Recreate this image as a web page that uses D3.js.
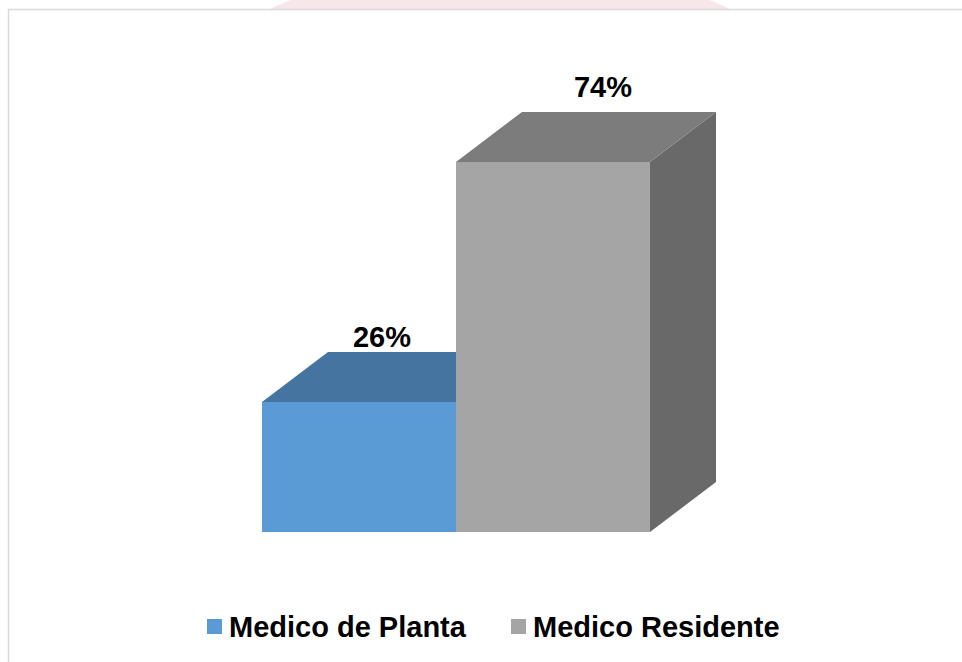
<!DOCTYPE html>
<html>
<head>
	<meta charset="utf-8">
	<title></title>
	<style type="text/css">
body {
  margin: 0;
  background: #fff;
}

text {
  font-family: "Liberation Sans", Arial, sans-serif;
  font-weight: bold;
}
	</style>
</head>
<body>
	<svg width="962" height="662"></svg>

	<script src="https://d3js.org/d3.v7.min.js"></script>
	<script type="text/javascript">
		// data
		var categories = ["Medico de Planta", "Medico Residente"]
		var values = [26, 74]
		var labels = ["26%", "74%"]

		var frontColors = ["#5b9bd5", "#a5a5a5"]
		var topColors = ["#4674a0", "#7c7c7c"]
		var sideColors = ["#3f6a93", "#696969"]

		var svg = d3.select("svg"),
		    width = +svg.attr("width"),
		    height = +svg.attr("height");

		// faint watermark peeking above the frame
		svg.append("path")
			.attr("d", "M270,9 Q300,-6 330,-10 L670,-10 Q700,-6 730,9 Z")
			.attr("fill", "#f3dde3")
			.attr("opacity", 0.7);

		// chart frame (runs off the right and bottom edges)
		svg.append("path")
			.attr("d", "M8.5,700 L8.5,9.5 L1000,9.5")
			.attr("fill", "none")
			.attr("stroke", "#d9d9d9")
			.attr("stroke-width", 1.5);

		var x = d3.scaleBand()
			.domain(categories)
			.range([262, 650])
			.paddingInner(0)
			.paddingOuter(0);

		var y = d3.scaleLinear()
			.domain([0, 100])
			.range([532, 32]);

		// 3d depth offset
		var dx = 66, dy = 50;

		var bars = svg.append("g")
			.selectAll("g")
			.data(categories)
			.enter().append("g");

		bars.each(function(d, i) {
			var g = d3.select(this)
			var x0 = x(d), x1 = x(d) + x.bandwidth()
			var yTop = y(values[i]), yBase = y(0)

			// side
			g.append("path")
				.attr("d", "M" + x1 + "," + yTop + " L" + (x1 + dx) + "," + (yTop - dy) +
					" L" + (x1 + dx) + "," + (yBase - dy) + " L" + x1 + "," + yBase + " Z")
				.attr("fill", sideColors[i]);

			// top
			g.append("path")
				.attr("d", "M" + x0 + "," + yTop + " L" + x1 + "," + yTop +
					" L" + (x1 + dx) + "," + (yTop - dy) + " L" + (x0 + dx) + "," + (yTop - dy) + " Z")
				.attr("fill", topColors[i]);

			// front
			g.append("rect")
				.attr("x", x0)
				.attr("y", yTop)
				.attr("width", x.bandwidth())
				.attr("height", yBase - yTop)
				.attr("fill", frontColors[i]);
		})

		// value labels
		var labelNudge = [[-10, -5], [17, -15]]
		svg.append("g")
			.selectAll("text")
			.data(categories)
			.enter().append("text")
				.attr("x", function(d, i) { return x(d) + x.bandwidth() / 2 + dx / 2 + labelNudge[i][0]; })
				.attr("y", function(d, i) { return y(values[i]) - dy + labelNudge[i][1]; })
				.attr("text-anchor", "middle")
				.attr("font-size", "29px")
				.attr("fill", "#000")
				.text(function(d, i) { return labels[i]; });

		// legend
		var legendX = [207, 511]
		var legend = svg.append("g")
			.selectAll("g")
			.data(categories)
			.enter().append("g")
				.attr("transform", function(d, i) { return "translate(" + legendX[i] + ",619)"; });

		legend.append("rect")
			.attr("width", 15)
			.attr("height", 15)
			.attr("fill", function(d, i) { return frontColors[i]; });

		legend.append("text")
			.attr("x", 22)
			.attr("y", 18)
			.attr("font-size", "29px")
			.attr("fill", "#000")
			.text(function(d) { return d; });
	</script>
</body>
</html>
